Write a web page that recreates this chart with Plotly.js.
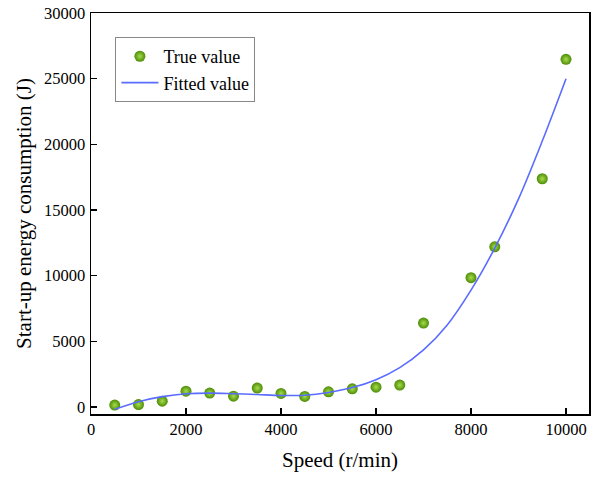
<!DOCTYPE html>
<html>
<head>
<meta charset="utf-8">
<script src="https://cdn.plot.ly/plotly-3.0.1.min.js"></script>
<style>html,body{margin:0;padding:0;background:#fff;}#chart{width:598px;height:479px;}</style>
</head>
<body>
<div id="chart"></div>
<script>
// Measured points
var speed = [500, 1000, 1500, 2000, 2500, 3000, 3500, 4000, 4500, 5000, 5500, 6000, 6500, 7000, 8000, 8500, 9500, 10000];
var energy = [150, 190, 450, 1210, 1060, 830, 1440, 1040, 810, 1160, 1390, 1515, 1670, 6390, 9850, 12200, 17380, 26470];

// Fitted curve
var fitSpeed = [500, 1000, 1500, 2000, 2500, 3000, 3500, 4000, 4500, 5000, 5500, 6000, 6500, 7000, 7500, 8000, 8500, 9000, 9500, 10000];
var fitEnergy = [-170, 410, 790, 1010, 1060, 1015, 950, 880, 900, 1110, 1480, 2080, 3000, 4350, 6250, 8900, 12100, 15850, 20250, 25000];

// Tick labels
var xTickVals = [0, 2000, 4000, 6000, 8000, 10000];
var xTickText = ['0', '2000', '4000', '6000', '8000', '10000'];
var yTickVals = [0, 5000, 10000, 15000, 20000, 25000, 30000];
var yTickText = ['0', '5000', '10000', '15000', '20000', '25000', '30000'];

var font = "'Liberation Serif', 'Times New Roman', serif";

var traces = [
  {
    x: speed, y: energy, mode: 'markers', type: 'scatter', name: 'True value',
    marker: {size: 11, color: '#4c8c06', gradient: {type: 'radial', color: '#a6dc4c'}, line: {width: 0}}
  },
  {
    x: fitSpeed, y: fitEnergy, mode: 'lines', type: 'scatter', name: 'Fitted value',
    line: {color: '#5a6cff', width: 1.6, shape: 'spline', smoothing: 1}
  }
];

var axisCommon = {
  showline: true, linecolor: '#000', linewidth: 1.5, mirror: true,
  ticks: 'inside', ticklen: 6, tickwidth: 1.3, tickcolor: '#000',
  showgrid: false, zeroline: false,
  tickfont: {family: font, size: 16.5, color: '#000'}
};

var layout = {
  width: 598, height: 479,
  margin: {l: 91, r: 9, t: 13, b: 65},
  paper_bgcolor: '#fff', plot_bgcolor: '#fff',
  font: {family: font, color: '#000'},
  showlegend: true,
  legend: {
    x: 0.049, y: 0.94, xanchor: 'left', yanchor: 'top',
    bordercolor: '#888', borderwidth: 1, bgcolor: '#fff',
    font: {family: font, size: 18, color: '#000'},
    tracegroupgap: 0, itemwidth: 37
  },
  xaxis: Object.assign({}, axisCommon, {
    range: [0, 10484], tickmode: 'array', tickvals: xTickVals, ticktext: xTickText,
    title: {text: 'Speed (r/min)', font: {family: font, size: 21, color: '#000'}, standoff: 14}
  }),
  yaxis: Object.assign({}, axisCommon, {
    range: [-530, 30000], tickmode: 'array', tickvals: yTickVals, ticktext: yTickText,
    ticklabelstandoff: 1,
    title: {text: 'Start-up energy consumption (J)', font: {family: font, size: 21, color: '#000'}, standoff: 6}
  })
};

Plotly.newPlot('chart', traces, layout, {displayModeBar: false, staticPlot: true});
</script>
</body>
</html>
